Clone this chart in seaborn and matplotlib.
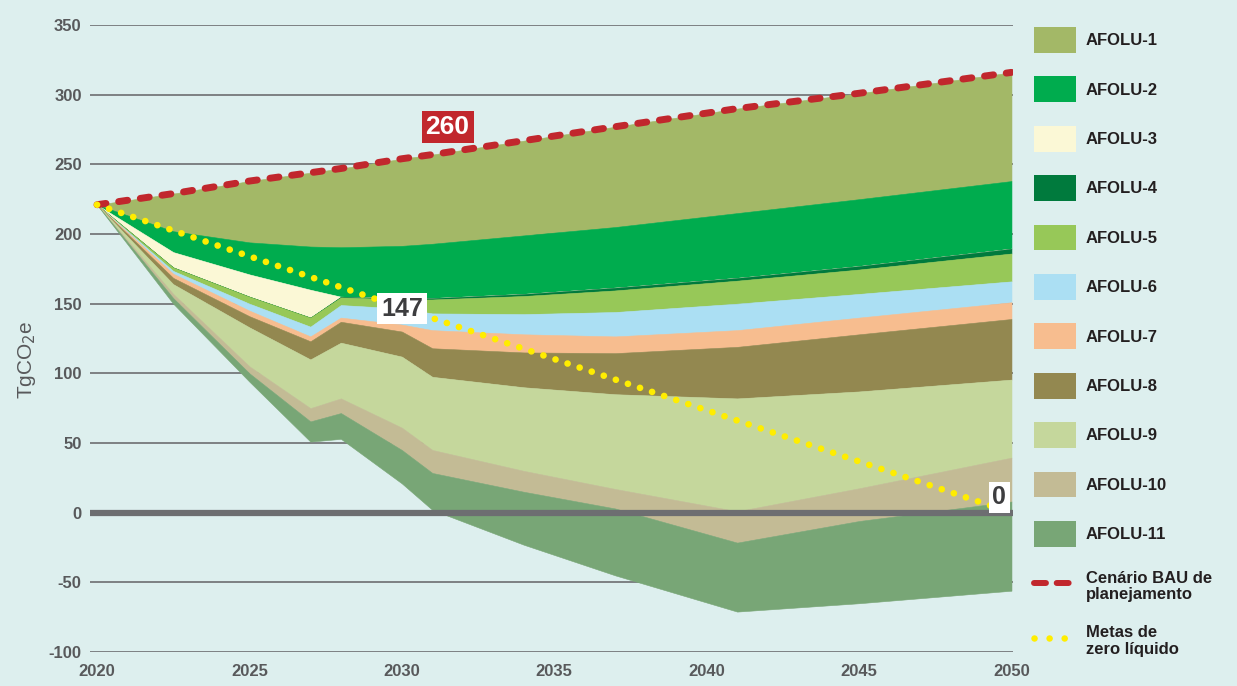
import matplotlib
matplotlib.use("Agg")
import matplotlib.pyplot as plt
from matplotlib import font_manager
from matplotlib.patches import Patch
from matplotlib.lines import Line2D
import seaborn as sns

years = [2020, 2022.5, 2025, 2027, 2028, 2030, 2031, 2034, 2037, 2041, 2045, 2050]

# BAU planning scenario (top of the stack)
bau = [221, 229, 238, 244, 247, 254, 257, 267, 277, 290, 301, 316]

# lower edge of each AFOLU band, TgCO2e
afolu_1_low = [221, 202, 194, 191, 190.5, 191.5, 193, 199, 205, 215, 225, 238]
afolu_2_low = [221, 187, 171, 160, 155, 154, 154, 157, 161.5, 168.5, 177, 189.5]
afolu_3_low = [221, 176, 155, 140, 155, 154, 154, 157, 161.5, 168.5, 177, 189.5]
afolu_4_low = [221, 176, 155, 140, 154.5, 153, 153, 155.5, 159.5, 166.5, 174.5, 186]
afolu_5_low = [221, 173.5, 150, 133.5, 149, 146.5, 143, 142.5, 144, 150, 157, 166]
afolu_6_low = [221, 171.5, 145, 126.5, 140, 135, 131, 128, 126.5, 131, 140, 151]
afolu_7_low = [221, 168.5, 141, 123, 137, 130, 118, 115, 114.5, 119, 128, 139]
afolu_8_low = [221, 164, 133, 110, 122, 112, 97.5, 90, 85, 82, 87, 95.5]
afolu_9_low = [221, 157, 105, 75, 82, 61, 45, 30, 17, 1, 17.5, 39.5]
afolu_10_low = [221, 154, 100, 65.5, 71.5, 45, 28.5, 15, 3, -21.5, -6, 8]
afolu_11_low = [221, 150, 94, 51, 53, 21, 2, -23, -45, -71, -65, -56]

# net zero targets
net_zero_years = [2020, 2030, 2050]
net_zero = [221, 147, 0]

labels = ["AFOLU-1", "AFOLU-2", "AFOLU-3", "AFOLU-4", "AFOLU-5", "AFOLU-6",
          "AFOLU-7", "AFOLU-8", "AFOLU-9", "AFOLU-10", "AFOLU-11"]
colors = ["#a3b867", "#00ac4e", "#fbf8d6", "#007a3d", "#97c858", "#abdff3",
          "#f7bd8f", "#938850", "#c5d79c", "#c3bb95", "#78a676"]
lows = [afolu_1_low, afolu_2_low, afolu_3_low, afolu_4_low, afolu_5_low, afolu_6_low,
        afolu_7_low, afolu_8_low, afolu_9_low, afolu_10_low, afolu_11_low]

BG = "#ddefee"
GREY = "#58595b"
RED = "#c1272d"
YELLOW = "#ffed00"

sns.set_theme(style="white")
plt.rcParams["font.family"] = ["Liberation Sans", "DejaVu Sans"]
plt.rcParams["axes.unicode_minus"] = False

# narrow face for the legend, if the system has it
try:
    font_manager.findfont(font_manager.FontProperties(family="Liberation Sans Narrow"),
                          fallback_to_default=False)
    narrow = ["Liberation Sans Narrow", "DejaVu Sans"]
except ValueError:
    narrow = ["Liberation Sans", "DejaVu Sans"]

fig = plt.figure(figsize=(12.37, 6.86), dpi=100)
fig.patch.set_facecolor(BG)
ax = fig.add_axes([90 / 1237, 34 / 686, 923 / 1237, 627 / 686])
ax.set_facecolor(BG)

# stacked bands, each between the previous edge and its own lower edge
top = bau
for low, color in zip(lows, colors):
    ax.fill_between(years, top, low, facecolor=color, edgecolor=color, linewidth=0.4, zorder=2)
    top = low

ax.axhline(0, color="#6d6e71", linewidth=4.5, zorder=3)

sns.lineplot(x=years, y=bau, ax=ax, color=RED, linewidth=5,
             linestyle=(0, (1.3, 1.85)), dash_capstyle="round", zorder=4)
sns.lineplot(x=net_zero_years, y=net_zero, ax=ax, color=YELLOW, linewidth=4.8,
             linestyle=(0, (0.01, 1.9)), dash_capstyle="round", zorder=5)

# value tags
ax.text(2031.5, 276.5, "260", color="white", fontsize=19, fontweight="bold",
        ha="center", va="center", zorder=6,
        bbox=dict(boxstyle="square,pad=0.15", fc=RED, ec="none"))
ax.text(2030.0, 146.5, "147", color="#3d3d3f", fontsize=18, fontweight="bold",
        ha="center", va="center", zorder=6,
        bbox=dict(boxstyle="square,pad=0.15", fc="white", ec="none"))
ax.text(2049.6, 11, "0", color="#3d3d3f", fontsize=18, fontweight="bold",
        ha="center", va="center", zorder=6,
        bbox=dict(boxstyle="square,pad=0.15", fc="white", ec="none"))

ax.set_xlim(2019.77, 2050.05)
ax.set_ylim(-100, 350)
ax.set_xticks(range(2020, 2051, 5))
ax.set_yticks(range(-100, 351, 50))
ax.yaxis.grid(True, color="#6d6e71", linewidth=1.2)
ax.xaxis.grid(False)
ax.set_axisbelow(True)
for s in ax.spines.values():
    s.set_visible(False)
ax.tick_params(axis="both", length=0, labelsize=12, labelcolor=GREY)
ax.tick_params(axis="y", pad=6)
ax.tick_params(axis="x", pad=9)
for t in ax.get_xticklabels() + ax.get_yticklabels():
    t.set_fontweight("bold")

fig.text(27 / 1237, 1 - 360 / 686, r"TgCO$_2$e", rotation=90, ha="center", va="center",
         fontsize=15, color=GREY)

# legend
handles = [Patch(facecolor=c, edgecolor="none") for c in colors]
handles.append(Line2D([0], [0], color=RED, linewidth=4.3, linestyle=(0, (2.0, 1.8)),
                      dash_capstyle="round"))
handles.append(Line2D([0], [0], color=YELLOW, linewidth=4.7, linestyle=(0, (0.01, 2.3)),
                      dash_capstyle="round"))
leg_labels = labels + ["Cenário BAU de\nplanejamento", "Metas de\nzero líquido"]
leg = fig.legend(handles, leg_labels, loc="upper left", bbox_to_anchor=(1034 / 1237, 1 - 27 / 686),
                 frameon=False, borderpad=0, borderaxespad=0, handlelength=2.5,
                 handleheight=2.0, handletextpad=0.6, labelspacing=1.42,
                 prop=dict(family=narrow, weight="bold", size=12))
for t in leg.get_texts():
    t.set_color("#231f20")
    t.set_linespacing(1.1)

fig.savefig("out.png", dpi=100, facecolor=BG)
